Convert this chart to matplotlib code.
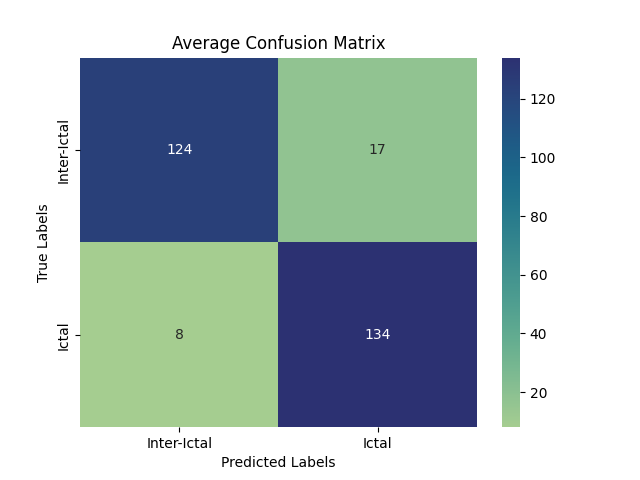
import numpy as np
import matplotlib
matplotlib.use("Agg")
import matplotlib.pyplot as plt
import seaborn as sns

labels = ["Inter-Ictal", "Ictal"]
cm = np.array([[124, 17],
               [8, 134]])

fig = plt.figure(figsize=(6.4, 4.8), dpi=100)
ax = sns.heatmap(cm, annot=True, fmt="d", cmap="crest",
                 xticklabels=labels, yticklabels=labels)
ax.set_title("Average Confusion Matrix")
ax.set_xlabel("Predicted Labels")
ax.set_ylabel("True Labels")

plt.savefig("out.png")
